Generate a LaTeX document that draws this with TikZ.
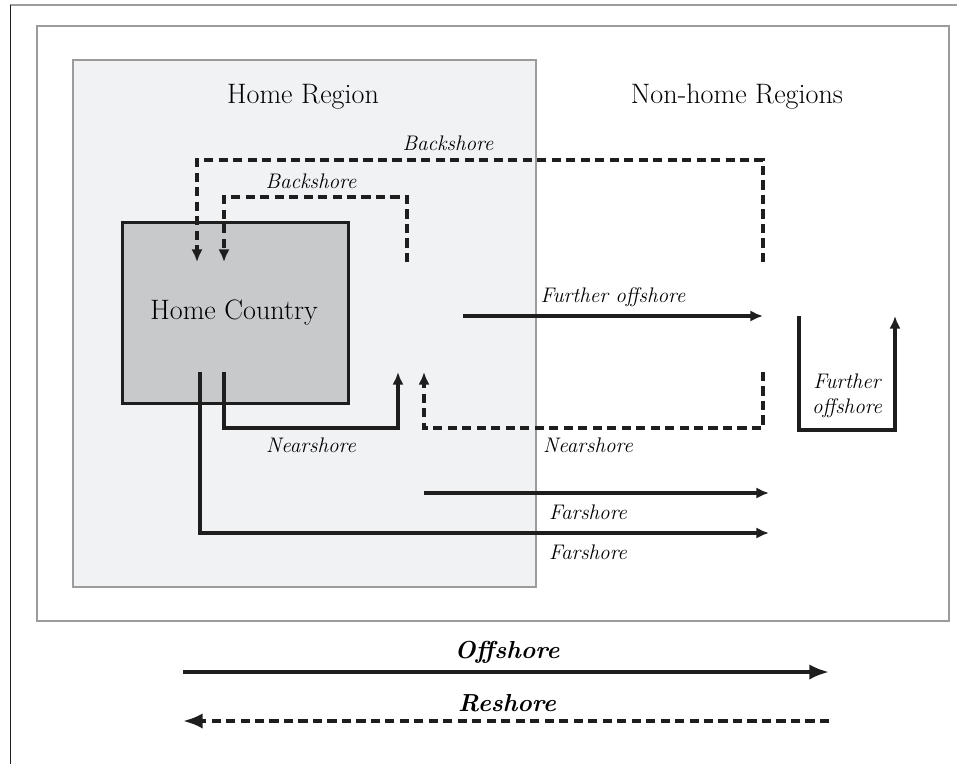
\documentclass[tikz,border=0pt]{standalone}
\usetikzlibrary{arrows.meta,positioning}
\definecolor{regionfill}{HTML}{F1F2F4}
\definecolor{countryfill}{HTML}{C8C9CB}
\definecolor{framegray}{HTML}{9C9C9C}
\definecolor{ink}{HTML}{1E1E1E}

\begin{document}
\begin{tikzpicture}[x=0.025cm,y=-0.025cm,
  plain/.style={draw=ink, line width=2.6pt},
  flow/.style={plain, -{Latex[length=9pt,width=8pt]}},
  backflow/.style={flow, dash pattern=on 6.5pt off 3.8pt},
  keyflow/.style={plain, -{Latex[length=14pt,width=11pt]}},
  lab/.style={font=\fontsize{15}{17.5}\selectfont\itshape, inner sep=1pt},
  keylab/.style={font=\fontsize{17.5}{20}\selectfont\bfseries\itshape, inner sep=1pt},
  title/.style={font=\fontsize{20}{23}\selectfont, inner sep=1pt}]
\useasboundingbox (0,0) rectangle (957,764);
% page edges
\draw[framegray, line width=1.4pt] (10,5) -- (957,5);
\draw[ink, line width=1.3pt] (10.5,5) -- (10.5,764);
% frames
\node (frame) [draw=framegray, line width=1.4pt, minimum width=22.8cm, minimum height=14.875cm, anchor=north west, inner sep=0pt] at (36,25) {};
\node (homereg) [draw=framegray, line width=1.3pt, fill=regionfill, minimum width=11.575cm, minimum height=13.175cm, anchor=north west, inner sep=0pt] at (72,59) {};
\node (homecty) [draw=ink, line width=1.8pt, fill=countryfill, minimum width=5.65cm, minimum height=4.525cm, anchor=north west, inner sep=0pt] at (121,221) {};
\node (homectytxt) [title] at (234,313) {Home Country};
\node (hrtitle) [title] at (303,97) {Home Region};
\node (nhtitle) [title] at (737,97) {Non-home Regions};

% end points
\coordinate (bo-s) at (763,262);
\coordinate (bo-e) at (197,262);
\coordinate (bi-s) at (407,262);
\coordinate (bi-e) at (224,262);
\coordinate (fo-s) at (463,316);
\coordinate (fo-e) at (763,316);
\coordinate (nh-s) at (224,372);
\coordinate (nh-e) at (398,372);
\coordinate (nb-s) at (763,372);
\coordinate (nb-e) at (424,372);
\coordinate (fu-s) at (799,316);
\coordinate (fu-e) at (895,316);
\coordinate (f1-s) at (424,493);
\coordinate (f1-e) at (769,493);
\coordinate (f2-s) at (200,372);
\coordinate (f2-e) at (769,533);
\coordinate (off-s) at (183,672);
\coordinate (off-e) at (829,672);
\coordinate (re-s) at (829,721);
\coordinate (re-e) at (183,721);

% backshore
\draw[backflow] (bo-s) -- ++(0,-102) -| (bo-e);
\draw[backflow] (bi-s) -- ++(0,-65) -| (bi-e);
\node (lbo) [lab] at (448,143) {Backshore};
\node (lbi) [lab] at (311,181) {Backshore};

% further offshore
\draw[flow] (fo-s) -- node[lab, above=4pt] (lfo) {Further offshore} (fo-e);
\draw[flow] (fu-s) -- ++(0,114) -| (fu-e);
\node (lfu) [lab, align=center] at (847,396) {Further\\offshore};

% nearshore
\draw[flow] (nh-s) -- ++(0,56) -| (nh-e);
\draw[backflow] (nb-s) -- ++(0,56) -| (nb-e);
\node (lnh) [lab] at (311,445) {Nearshore};
\node (lnb) [lab] at (588,445) {Nearshore};

% farshore
\draw[flow] (f1-s) -- (f1-e);
\draw[flow] (f2-s) |- (f2-e);
\node (lf1) [lab] at (588,512) {Farshore};
\node (lf2) [lab] at (588,552) {Farshore};

% key
\draw[keyflow] (off-s) -- (off-e);
\draw[keyflow, dash pattern=on 6.5pt off 3.8pt] (re-s) -- (re-e);
\node (loff) [keylab] at (507,652) {Offshore};
\node (lre) [keylab] at (507,703) {Reshore};
\end{tikzpicture}
\end{document}
